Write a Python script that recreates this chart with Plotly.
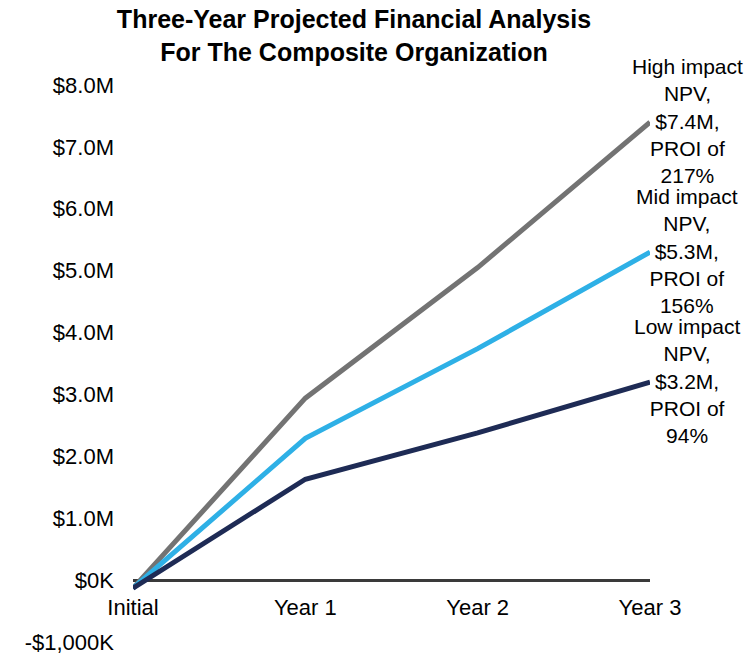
import plotly.graph_objects as go

periods = ["Initial", "Year 1", "Year 2", "Year 3"]
high_impact = [-0.13, 2.94, 5.05, 7.4]
mid_impact = [-0.13, 2.29, 3.74, 5.3]
low_impact = [-0.13, 1.63, 2.38, 3.2]

high_label = "High impact<br>NPV,<br>$7.4M,<br>PROI of<br>217%"
mid_label = "Mid impact<br>NPV,<br>$5.3M,<br>PROI of<br>156%"
low_label = "Low impact<br>NPV,<br>$3.2M,<br>PROI of<br>94%"

y_ticks = [-1, 0, 1, 2, 3, 4, 5, 6, 7, 8]
y_labels = ["-$1,000K", "$0K", "$1.0M", "$2.0M", "$3.0M", "$4.0M",
            "$5.0M", "$6.0M", "$7.0M", "$8.0M"]

font_family = "Liberation Sans, Arial, sans-serif"

fig = go.Figure()
series = [
    ("High impact", high_impact, "#737373", high_label),
    ("Mid impact", mid_impact, "#2EB0E6", mid_label),
    ("Low impact", low_impact, "#1E2B55", low_label),
]
x_idx = list(range(len(periods)))
for name, vals, color, label in series:
    fig.add_trace(go.Scatter(x=x_idx, y=vals, mode="lines", name=name,
                             line=dict(color=color, width=5)))
    fig.add_annotation(x=x_idx[-1], y=vals[-1], text=label, showarrow=False,
                       xanchor="center", yanchor="middle", xshift=37, yshift=1,
                       align="center", font=dict(size=21, color="black"))

fig.update_layout(
    width=756,
    height=660,
    showlegend=False,
    plot_bgcolor="white",
    paper_bgcolor="white",
    margin=dict(l=133, r=106, t=85, b=18),
    font=dict(family=font_family, size=22, color="black"),
    title=dict(
        text="<b>Three-Year Projected Financial Analysis<br>For The Composite Organization</b>",
        x=354 / 756, xanchor="center", y=1 - 28 / 660, yanchor="middle",
        font=dict(size=25, color="black"),
        automargin=False,
    ),
)
fig.update_xaxes(
    range=[0, 3],
    tickvals=x_idx,
    ticktext=periods,
    showgrid=False,
    showline=False,
    zeroline=False,
    anchor="free",
    position=1 / 9,
    ticklabelstandoff=12,
    automargin=False,
)
fig.update_yaxes(
    range=[-1, 8],
    tickvals=y_ticks,
    ticktext=y_labels,
    showgrid=False,
    showline=False,
    zeroline=True,
    zerolinecolor="#3a3a3a",
    zerolinewidth=3,
    ticklabelstandoff=18,
    automargin=False,
)

# the page's default body margin would shift the chart
fig.write_html("out.html", config={"displayModeBar": False},
               post_script="document.body.style.margin='0';")
